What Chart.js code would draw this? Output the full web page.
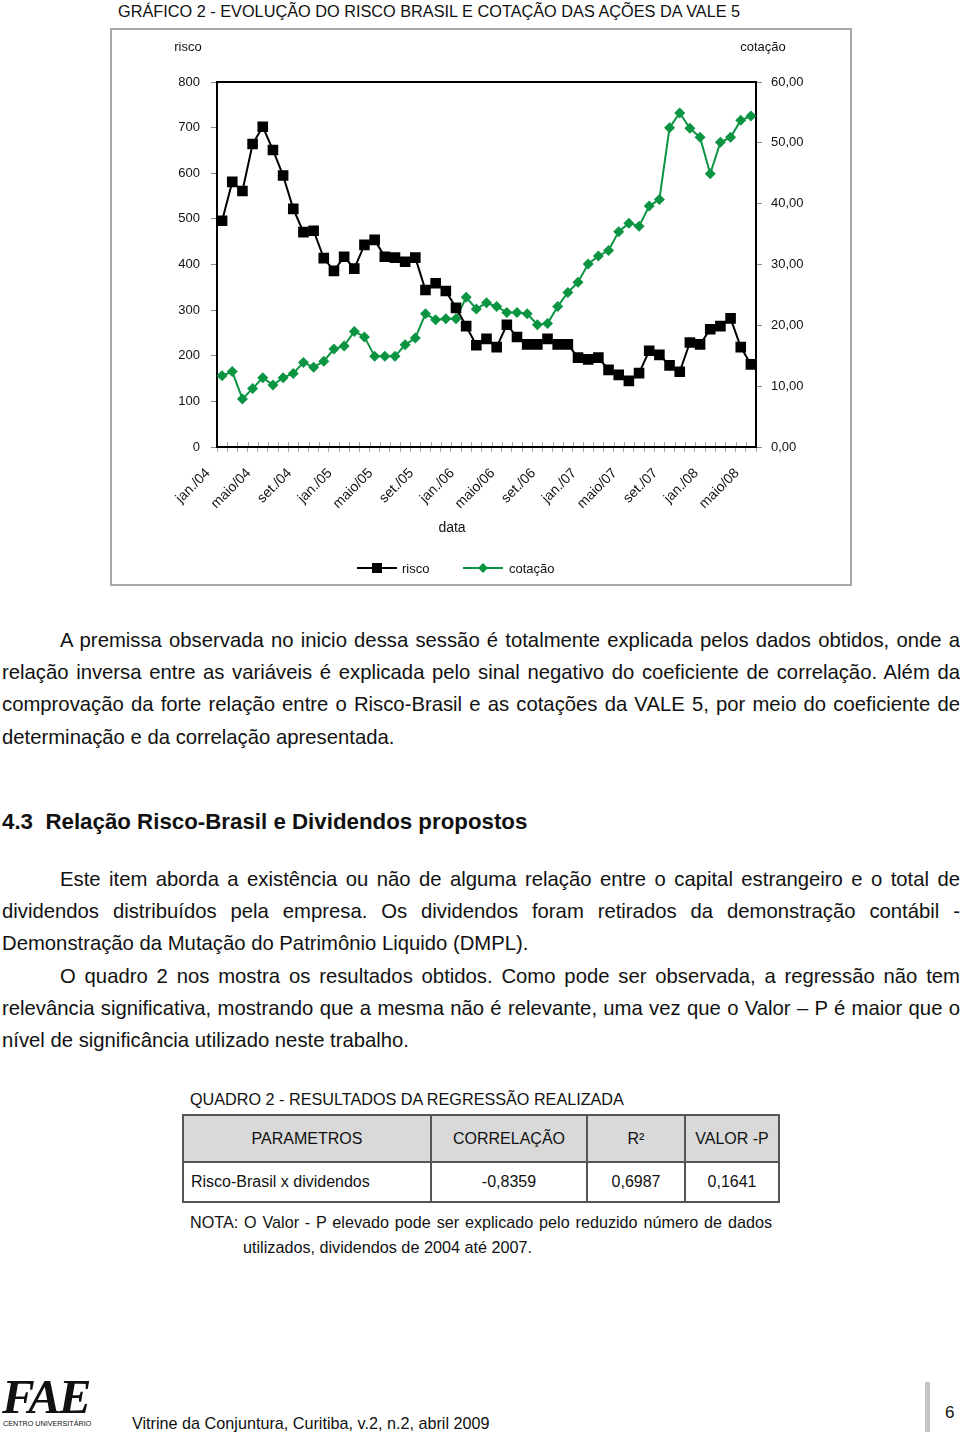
<!DOCTYPE html>
<html>
<head>
<meta charset="utf-8">
<script src="https://cdn.jsdelivr.net/npm/chart.js@4.4.1/dist/chart.umd.min.js"></script>
<style>
  body { margin: 0; width: 960px; height: 1434px; position: relative; background: #fff; font-family: "Liberation Sans", Arial, sans-serif; color: #111; overflow: hidden; }
  .abs { position: absolute; white-space: nowrap; }
  .line { position: absolute; white-space: nowrap; font-size: 20.3px; line-height: 24px; }
  #box { position: absolute; left: 110px; top: 28px; width: 742px; height: 558px; box-sizing: border-box; border: 2px solid #a8a8a8; }
  #chart { position: absolute; left: 110px; top: 28px; }
  table { border-collapse: collapse; }
  td { border: 2px solid #555; font-size: 16px; padding: 0; }
</style>
</head>
<body>

<div class="abs" style="left:118px; top:2px; font-size:16.3px; line-height:18px;">GRÁFICO 2 - EVOLUÇÃO DO RISCO BRASIL E COTAÇÃO DAS AÇÕES DA VALE 5</div>
<div id="box"></div>
<canvas id="chart" width="742" height="558"></canvas>

<div class="line j" style="left:60px; top:628px; width:900px;"><span>A premissa observada no inicio dessa sessão é totalmente explicada pelos dados obtidos, onde a</span></div>
<div class="line j" style="left:2px; top:660px; width:958px;"><span>relação inversa entre as variáveis é explicada pelo sinal negativo do coeficiente de correlação. Além da</span></div>
<div class="line j" style="left:2px; top:692px; width:958px;"><span>comprovação da forte relação entre o Risco-Brasil e as cotações da VALE 5, por meio do coeficiente de</span></div>
<div class="line" style="left:2px; top:725px;">determinação e da correlação apresentada.</div>

<div class="line" style="left:2px; top:809px; font-weight:bold; font-size:22.3px; line-height:26px;">4.3&nbsp; Relação Risco-Brasil e Dividendos propostos</div>

<div class="line j" style="left:60px; top:867px; width:900px;"><span>Este item aborda a existência ou não de alguma relação entre o capital estrangeiro e o total de</span></div>
<div class="line j" style="left:2px; top:899px; width:958px;"><span>dividendos distribuídos pela empresa. Os dividendos foram retirados da demonstração contábil -</span></div>
<div class="line" style="left:2px; top:931px;">Demonstração da Mutação do Patrimônio Liquido (DMPL).</div>
<div class="line j" style="left:60px; top:964px; width:900px;"><span>O quadro 2 nos mostra os resultados obtidos. Como pode ser observada, a regressão não tem</span></div>
<div class="line j" style="left:2px; top:996px; width:958px;"><span>relevância significativa, mostrando que a mesma não é relevante, uma vez que o Valor – P é maior que o</span></div>
<div class="line" style="left:2px; top:1028px;">nível de significância utilizado neste trabalho.</div>

<div class="abs" style="left:190px; top:1090px; font-size:16.2px; line-height:18px;">QUADRO 2 - RESULTADOS DA REGRESSÃO REALIZADA</div>
<table class="abs" style="left:182px; top:1114px; width:598px;">
  <tr style="height:47px; background:#d9d9d9;">
    <td style="width:246px; text-align:center;">PARAMETROS</td>
    <td style="width:154px; text-align:center;">CORRELAÇÃO</td>
    <td style="width:96px; text-align:center;">R²</td>
    <td style="text-align:center;">VALOR -P</td>
  </tr>
  <tr style="height:40px;">
    <td style="padding-left:7px;">Risco-Brasil x dividendos</td>
    <td style="text-align:center;">-0,8359</td>
    <td style="text-align:center;">0,6987</td>
    <td style="text-align:center;">0,1641</td>
  </tr>
</table>
<div class="abs j" style="left:190px; top:1213px; width:582px; font-size:16.2px; line-height:18px;"><span>NOTA: O Valor - P elevado pode ser explicado pelo reduzido número de dados</span></div>
<div class="abs" style="left:243px; top:1238px; font-size:16.2px; line-height:18px;">utilizados, dividendos de 2004 até 2007.</div>

<div class="abs" style="left:2px; top:1371px; font-family:'Liberation Serif', serif; font-style:italic; font-weight:bold; font-size:49px; line-height:52px; letter-spacing:-2px;">FAE</div>
<div class="abs" style="left:3px; top:1419px; font-size:7.2px; line-height:10px;">CENTRO UNIVERSITÁRIO</div>
<div class="abs" style="left:132px; top:1414px; font-size:16.2px; line-height:18px;">Vitrine da Conjuntura, Curitiba, v.2, n.2, abril 2009</div>
<div class="abs" style="left:925px; top:1382px; width:5px; height:50px; background:#c4c4c4;"></div>
<div class="abs" style="left:945px; top:1403px; font-size:17px; line-height:20px;">6</div>

<script>
// months jan./04 .. maio/08
var monthNames = ["jan.", "fev.", "mar.", "abr.", "maio", "jun.", "jul.", "ago.", "set.", "out.", "nov.", "dez."];
var years = ["04", "05", "06", "07", "08"];
var labels = [];
for (var y = 0; y < years.length; y++) {
  for (var m = 0; m < 12; m++) {
    if (labels.length < 53) labels.push(monthNames[m] + "/" + years[y]);
  }
}

// risco brasil (pontos)
var risco = [496, 581, 561, 664, 702, 651, 595, 522, 471, 474,
             414, 386, 417, 391, 443, 454, 417, 415, 406, 415,
             344, 359, 342, 305, 265, 223, 237, 219, 268, 241,
             225, 225, 237, 225, 225, 196, 192, 196, 169, 158,
             145, 162, 211, 202, 179, 165, 229, 225, 258, 265,
             282, 219, 181];

// cotação VALE 5 (R$)
var cotacao = [11.7, 12.4, 7.9, 9.6, 11.4, 10.2, 11.4, 12.1, 13.9, 13.1,
               14.1, 16.1, 16.6, 19.0, 18.1, 14.9, 14.9, 14.9, 16.8, 17.9,
               21.9, 20.9, 21.1, 21.1, 24.6, 22.7, 23.7, 23.1, 22.1, 22.1,
               21.9, 20.1, 20.3, 23.1, 25.4, 27.1, 30.1, 31.4, 32.3, 35.4,
               36.8, 36.3, 39.6, 40.7, 52.5, 54.9, 52.4, 50.9, 44.9, 50.1,
               50.9, 53.7, 54.4];

var green = "#0b9442";
var fontFam = "'Liberation Sans', Arial, sans-serif";
var tickFont = { family: fontFam, size: 13 };

// frame around plot, axis titles, x title and the legend
var extras = {
  id: "extras",
  beforeDatasetsDraw: function (chart) {
    var ctx = chart.ctx, a = chart.chartArea;
    ctx.save();
    // small category ticks just inside the x axis
    var step = (a.right - a.left) / labels.length;
    ctx.strokeStyle = "#aaa";
    ctx.lineWidth = 1;
    for (var i = 1; i < labels.length; i++) {
      var x = Math.round(a.left + i * step) + 0.5;
      ctx.beginPath(); ctx.moveTo(x, a.bottom); ctx.lineTo(x, a.bottom - 5); ctx.stroke();
    }
    ctx.strokeStyle = "#000";
    ctx.lineWidth = 2;
    ctx.strokeRect(a.left, a.top, a.right - a.left, a.bottom - a.top);
    ctx.restore();
  },
  afterDraw: function (chart) {
    var ctx = chart.ctx;
    ctx.save();
    ctx.font = "13px " + fontFam;
    ctx.fillStyle = "#111";
    ctx.textBaseline = "middle";
    ctx.textAlign = "center";
    ctx.fillText("risco", 78, 19);
    ctx.fillText("cotação", 653, 19);
    ctx.font = "14px " + fontFam;
    ctx.fillText("data", 342, 500);

    // legend
    var ly = 540;
    ctx.font = "13px " + fontFam;
    ctx.lineWidth = 2;
    ctx.strokeStyle = "#000";
    ctx.beginPath(); ctx.moveTo(247, ly); ctx.lineTo(287, ly); ctx.stroke();
    ctx.fillStyle = "#000";
    ctx.fillRect(262, ly - 5, 10, 10);
    ctx.strokeStyle = green;
    ctx.beginPath(); ctx.moveTo(353, ly); ctx.lineTo(393, ly); ctx.stroke();
    ctx.fillStyle = green;
    ctx.beginPath();
    ctx.moveTo(373, ly - 5); ctx.lineTo(378, ly); ctx.lineTo(373, ly + 5); ctx.lineTo(368, ly);
    ctx.closePath(); ctx.fill();
    ctx.fillStyle = "#111";
    ctx.textAlign = "left";
    ctx.fillText("risco", 292, ly + 1);
    ctx.fillText("cotação", 399, ly + 1);
    ctx.restore();
  }
};

var ctx = document.getElementById("chart").getContext("2d");
var chart = new Chart(ctx, {
  type: "line",
  data: {
    labels: labels,
    datasets: [
      {
        label: "risco",
        data: risco,
        yAxisID: "y",
        borderColor: "#000",
        backgroundColor: "#000",
        borderWidth: 2,
        pointStyle: "rect",
        pointRadius: 7.5,
        pointBorderWidth: 0,
        tension: 0
      },
      {
        label: "cotação",
        data: cotacao,
        yAxisID: "y1",
        borderColor: green,
        backgroundColor: green,
        borderWidth: 2,
        pointStyle: "rectRot",
        pointRadius: 5.5,
        pointBorderWidth: 0,
        tension: 0
      }
    ]
  },
  options: {
    responsive: false,
    animation: false,
    layout: { padding: { top: 54, bottom: 40, left: 0, right: 0 } },
    plugins: { legend: { display: false }, tooltip: { enabled: false } },
    scales: {
      x: {
        offset: true,
        grid: { display: true, offset: true, drawOnChartArea: false, tickLength: 5, color: "#aaa" },
        border: { display: true, color: "#000", width: 2 },
        ticks: {
          autoSkip: false,
          minRotation: 45,
          maxRotation: 45,
          padding: 13,
          labelOffset: -14,
          color: "#111",
          font: { family: fontFam, size: 14 },
          callback: function (val, i) { return i % 4 === 0 ? labels[i] : ""; }
        },
        afterFit: function (scale) { scale.height = 99; }
      },
      y: {
        position: "left",
        min: 0,
        max: 800,
        ticks: { stepSize: 100, padding: 11, color: "#111", font: tickFont },
        grid: { display: true, drawOnChartArea: false, tickLength: 6, color: "#888" },
        border: { display: true, color: "#000", width: 2 },
        afterFit: function (scale) { scale.width = 107; }
      },
      y1: {
        position: "right",
        min: 0,
        max: 60,
        ticks: {
          stepSize: 10, padding: 9, color: "#111", font: tickFont,
          callback: function (v) { return v.toFixed(2).replace(".", ","); }
        },
        grid: { display: true, drawOnChartArea: false, tickLength: 6, color: "#888" },
        border: { display: true, color: "#000", width: 2 },
        afterFit: function (scale) { scale.width = 96; }
      }
    }
  },
  plugins: [extras]
});

// stretch justified lines to their box width
document.querySelectorAll(".j").forEach(function (el) {
  var span = el.firstElementChild;
  var spaces = (span.textContent.match(/ /g) || []).length;
  var diff = el.clientWidth - span.getBoundingClientRect().width;
  if (spaces) span.style.wordSpacing = (diff / spaces) + "px";
});
</script>
</body>
</html>
